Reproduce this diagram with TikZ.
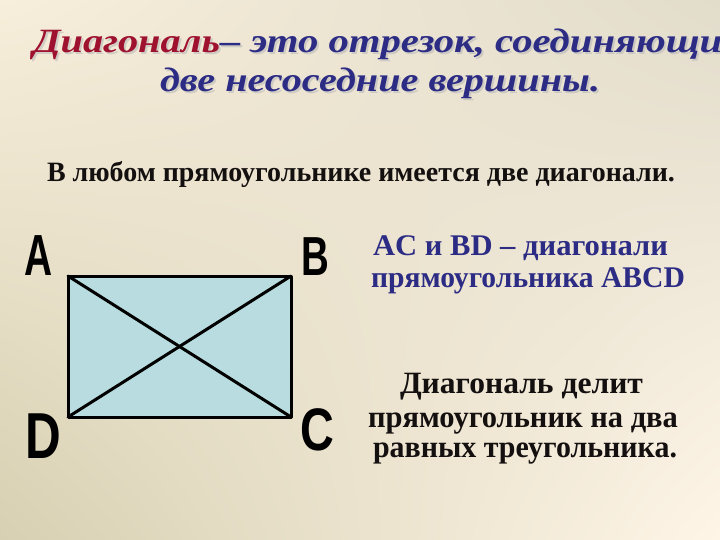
\documentclass[tikz,border=0pt]{standalone}
\usepackage{fontspec}
\usepackage{graphicx}
\usetikzlibrary{shadings}
\setmainfont{Liberation Serif}
\newfontfamily\titlefont{Liberation Serif}
\newfontfamily\letterfont{Liberation Sans}
\definecolor{bgA}{HTML}{F7EEDB}
\definecolor{bgB}{HTML}{E2DCCB}
\definecolor{bgC}{HTML}{D7D0B2}
\definecolor{bgD}{HTML}{FEF5E7}
\definecolor{rectfill}{HTML}{B8DCDF}
\definecolor{tblue}{HTML}{2C2C85}
\definecolor{tred}{HTML}{9E1230}
\definecolor{tblack}{HTML}{141010}
\newsavebox\fitbox
\newlength\fitlen
\newcommand\fitx[2]{\sbox\fitbox{#2}\setlength\fitlen{\wd\fitbox}\pgfmathsetmacro\fitfac{#1/\fitlen}\scalebox{\fitfac}[1]{\usebox\fitbox}}
\newcommand\ttl{\titlefont\bfseries\itshape\fontsize{34}{34}\selectfont}
\tikzset{
  txt/.style={anchor=base west, inner sep=0pt, outer sep=0pt},
  shadowtxt/.style={txt, text=gray!55, opacity=0.6},
  letter/.style={inner sep=0pt, outer sep=0pt, text=black},
  edge/.style={line width=3pt, line cap=round, line join=round},
}
\begin{document}
\begin{tikzpicture}[x=1pt,y=-1pt]
\useasboundingbox (0,0) rectangle (720,540);
\clip (0,0) rectangle (720,540);
\shade[upper left=bgA, upper right=bgB, lower left=bgC, lower right=bgD] (0,0) rectangle (720,540);
% title
\node[shadowtxt] (t1s) at (35,55) {\ttl\fitx{187pt}{Диагональ}\fitx{525pt}{– это отрезок, соединяющий}};
\node[txt] (t1) at (33,53) {\ttl\textcolor{tred}{\fitx{187pt}{Диагональ}}\textcolor{tblue}{\fitx{525pt}{– это отрезок, соединяющий}}};
\node[shadowtxt] (t2s) at (162,94) {\ttl\fitx{440pt}{две несоседние вершины.}};
\node[txt, text=tblue] (t2) at (160,92) {\ttl\fitx{440pt}{две несоседние вершины.}};
% statement
\node[txt, text=tblack] (s1) at (47,182) {\bfseries\fontsize{28}{28}\selectfont\fitx{628pt}{В любом прямоугольнике имеется две диагонали.}};
% rectangle
\coordinate (A) at (68,276);
\coordinate (B) at (291,276);
\coordinate (C) at (291,417);
\coordinate (D) at (68,417);
\fill[rectfill] (A) -- (B) -- (C) -- (D) -- cycle;
\draw[edge] (A) -- (C);
\draw[edge] (B) -- (D);
\draw[edge] (A) -- (B) -- (C) -- (D) -- cycle;
\node[letter] (lA) at (39,256) {\letterfont\bfseries\fontsize{58}{58}\selectfont\scalebox{0.67}[1]{A}};
\node[letter] (lB) at (315,256.5) {\letterfont\bfseries\fontsize{55}{55}\selectfont\scalebox{0.7}[1]{B}};
\node[letter] (lC) at (317,430) {\letterfont\bfseries\fontsize{60}{60}\selectfont\scalebox{0.78}[1]{C}};
\node[letter] (lD) at (43.5,436.5) {\letterfont\bfseries\fontsize{65}{65}\selectfont\scalebox{0.76}[1]{D}};
% right texts
\node[txt, text=tblue] (r1) at (373,255) {\bfseries\fontsize{30}{30}\selectfont\fitx{295pt}{AC и BD – диагонали}};
\node[txt, text=tblue] (r2) at (371,287) {\bfseries\fontsize{30}{30}\selectfont\fitx{314pt}{прямоугольника ABCD}};
\node[txt, text=tblack] (r3) at (400,393) {\bfseries\fontsize{31}{31}\selectfont\fitx{243pt}{Диагональ делит}};
\node[txt, text=tblack] (r4) at (368,427) {\bfseries\fontsize{31}{31}\selectfont\fitx{310pt}{прямоугольник на два}};
\node[txt, text=tblack] (r5) at (373,457) {\bfseries\fontsize{31}{31}\selectfont\fitx{304pt}{равных треугольника.}};
\end{tikzpicture}
\end{document}
